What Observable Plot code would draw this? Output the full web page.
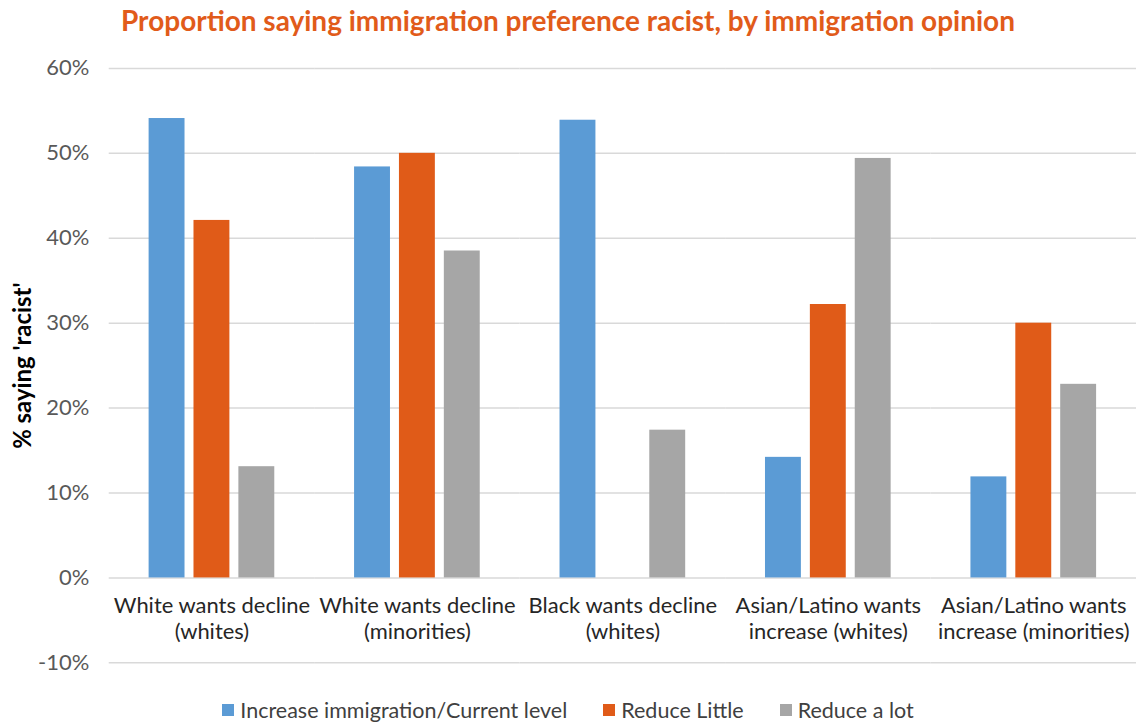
<!DOCTYPE html>
<html>
<head>
<meta charset="utf-8">
<script src="https://cdn.jsdelivr.net/npm/d3@7"></script>
<script src="https://cdn.jsdelivr.net/npm/@observablehq/plot@0.6"></script>
<style>
  html, body { margin: 0; padding: 0; background: #fff; }
  body { width: 1136px; height: 726px; overflow: hidden; font-family: Lato, "Open Sans", sans-serif; }
  #title { height: 40px; line-height: 40px; text-align: center; font-size: 28px; font-weight: bold; color: #e15b1a; white-space: nowrap; }
  #chart { height: 646px; overflow: hidden; }
  #chart svg [aria-label="y-axis label"] text, #chart svg g[aria-label="y-axis label"] { font-weight: bold; fill: #000; font-size: 24px; }
  #legend { height: 40px; display: flex; justify-content: center; align-items: center; gap: 36px; font-size: 21.5px; color: #404040; padding-top: 4px; padding-left: 0px; white-space: nowrap; }
  .item { display: flex; align-items: center; }
  .sw { width: 12px; height: 12px; margin-right: 6px; display: inline-block; }
</style>
</head>
<body>
<div id="title">Proportion saying immigration preference racist, by immigration opinion</div>
<div id="chart"></div>
<div id="legend"></div>
<script>
const categories = [
  "White wants decline\n(whites)",
  "White wants decline\n(minorities)",
  "Black wants decline\n(whites)",
  "Asian/Latino wants\nincrease (whites)",
  "Asian/Latino wants\nincrease (minorities)"
];
const series = ["Increase immigration/Current level", "Reduce Little", "Reduce a lot"];
const increaseValues = [0.541, 0.484, 0.539, 0.142, 0.119];
const reduceLittleValues = [0.421, 0.500, null, 0.322, 0.300];
const reduceALotValues = [0.131, 0.385, 0.174, 0.494, 0.228];
const colors = ["#5b9bd5", "#e05b18", "#a6a6a6"];
const yTicks = [-0.1, 0, 0.1, 0.2, 0.3, 0.4, 0.5, 0.6];

const seriesValues = [increaseValues, reduceLittleValues, reduceALotValues];
const data = [];
categories.forEach((c, i) => {
  series.forEach((s, j) => {
    const v = seriesValues[j][i];
    if (v != null) data.push({category: c, series: s, value: v});
  });
});

const chart = Plot.plot({
  width: 1139,
  height: 646,
  marginLeft: 109,
  marginRight: 0,
  marginTop: 28,
  marginBottom: 22,
  style: {fontFamily: "Lato, 'Open Sans', sans-serif", fontSize: "22px", color: "#595959", background: "#fff", overflow: "visible"},
  fx: {domain: categories, padding: 0, axis: null, label: null},
  x: {domain: series, paddingInner: 0.21, paddingOuter: 0.86, axis: null},
  y: {
    domain: [-0.1, 0.6],
    ticks: yTicks,
    tickFormat: d => `${Math.round(d * 100)}%`,
    tickSize: 0,
    tickPadding: 20,
    label: "% saying 'racist'",
    labelAnchor: "center",
    labelArrow: "none",
    labelOffset: 95
  },
  color: {domain: series, range: colors},
  marks: [
    Plot.ruleY(yTicks, {stroke: "#d9d9d9", strokeWidth: 1.5}),
    Plot.barY(data, {fx: "category", x: "series", y: "value", fill: "series"}),
    Plot.text(categories, {fx: d => d, y: () => 0, text: d => d, lineAnchor: "top", dy: 16, lineHeight: 1.2, fill: "#262626"})
  ]
});
document.getElementById("chart").appendChild(chart);

const legend = document.getElementById("legend");
series.forEach((s, i) => {
  const item = document.createElement("div");
  item.className = "item";
  const sw = document.createElement("span");
  sw.className = "sw";
  sw.style.background = colors[i];
  item.appendChild(sw);
  item.appendChild(document.createTextNode(s));
  legend.appendChild(item);
});
</script>
</body>
</html>
